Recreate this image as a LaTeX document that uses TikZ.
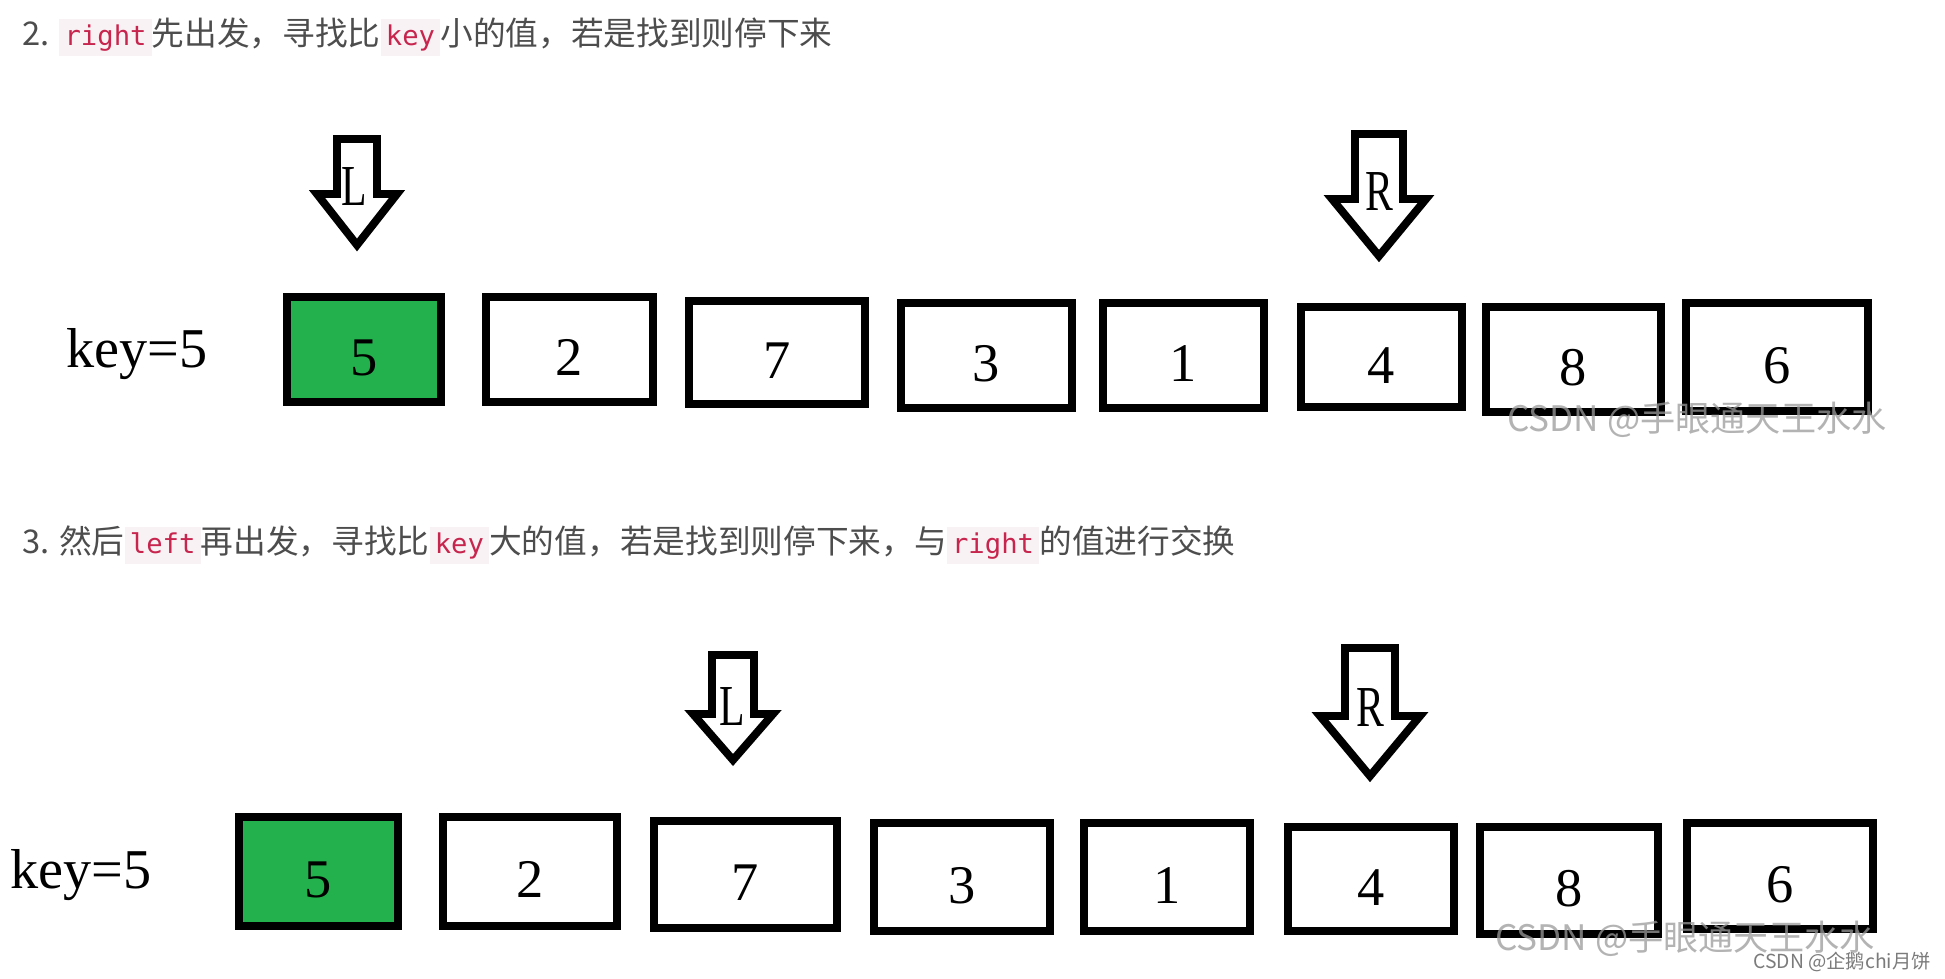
\documentclass[tikz,border=0pt]{standalone}
\usepackage{fontspec}
\usepackage{graphicx}
\usepackage{tikz}
\usepackage{xcolor}
\usetikzlibrary{positioning}
\setmainfont{Liberation Serif}
\newfontfamily\hanfont{Noto Sans CJK SC}
\newfontfamily\codefont{DejaVu Sans Mono}
\definecolor{ink}{HTML}{000000}
\definecolor{txt}{HTML}{4D4D4D}
\definecolor{paint}{HTML}{22B14C}
\definecolor{codered}{HTML}{C7254E}
\definecolor{codebg}{HTML}{F9F2F4}
\definecolor{wm}{HTML}{9A9A9A}
\newcommand{\codeword}[1]{{\setlength{\fboxsep}{3pt}\colorbox{codebg}{\textcolor{codered}{\codefont\fontsize{15.5}{15.5}\selectfont\vphantom{hg}#1}}}}

\begin{document}
\begin{tikzpicture}[x=0.02cm, y=-0.02cm,
  cell/.style={draw=ink, line width=4.5pt, fill=white, inner sep=0pt,
               text height=1.04cm, text depth=0pt, font=\fontsize{31}{31}\selectfont},
  pivot/.style={cell, fill=paint},
  ptr/.style={draw=ink, line width=4.5pt, fill=white, line join=miter},
  ptrlabel/.style={inner sep=0pt, font=\fontsize{33}{33}\selectfont},
  keytext/.style={anchor=base west, inner sep=0pt, font=\fontsize{32}{32}\selectfont},
  heading/.style={anchor=west, inner sep=0pt, text=txt, font=\hanfont\fontsize{18.6}{18.6}\selectfont},
  wmtext/.style={anchor=west, inner sep=0pt, text=wm, text opacity=0.75, font=\hanfont\fontsize{20}{20}\selectfont}]
  \useasboundingbox[fill=white] (0,0) rectangle (1945,978);

  % Step 2
  \node[heading] (head2) at (22,37) {2. \codeword{right}先出发，寻找比\codeword{key}小的值，若是找到则停下来};

  \draw[ptr] (337,139) -- (377,139) -- (377,194) -- (397,194) -- (357,245) -- (317,194) -- (337,194) -- cycle;
  \node[ptrlabel] (lptrA) at (354,187) {\scalebox{0.72}[1]{L}};
  \draw[ptr] (1355,134) -- (1403,134) -- (1403,199) -- (1426,199) -- (1379,256) -- (1332,199) -- (1355,199) -- cycle;
  \node[ptrlabel] (rptrA) at (1379,192) {\scalebox{0.72}[1]{R}};

  \node[keytext] (keyA) at (66,367) {key=5};
  \node[pivot, minimum width=3.08cm, minimum height=2.10cm] (a5) at (364,349.5) {5};
  \node[cell, minimum width=3.34cm, minimum height=2.10cm] (a2) at (569.5,349.5) {2};
  \node[cell, minimum width=3.52cm, minimum height=2.06cm] (a7) at (777,352.5) {7};
  \node[cell, minimum width=3.42cm, minimum height=2.10cm] (a3) at (986.5,355.5) {3};
  \node[cell, minimum width=3.22cm, minimum height=2.10cm] (a1) at (1183.5,355.5) {1};
  \node[cell, minimum width=3.22cm, minimum height=2.00cm] (a4) at (1381.5,357) {4};
  \node[cell, minimum width=3.50cm, minimum height=2.10cm] (a8) at (1573.5,359.5) {8};
  \node[cell, minimum width=3.64cm, minimum height=2.16cm] (a6) at (1777,357) {6};

  % Step 3
  \node[heading] (head3) at (22,545) {3. 然后\codeword{left}再出发，寻找比\codeword{key}大的值，若是找到则停下来，与\codeword{right}的值进行交换};

  \draw[ptr] (712,655) -- (754,655) -- (754,714) -- (773,714) -- (733,760) -- (693,714) -- (712,714) -- cycle;
  \node[ptrlabel] (lptrB) at (732,707) {\scalebox{0.72}[1]{L}};
  \draw[ptr] (1345,648) -- (1395,648) -- (1395,716) -- (1420,716) -- (1370,776) -- (1320,716) -- (1345,716) -- cycle;
  \node[ptrlabel] (rptrB) at (1370,708) {\scalebox{0.72}[1]{R}};

  \node[keytext] (keyB) at (10,888) {key=5};
  \node[pivot, minimum width=3.18cm, minimum height=2.18cm] (b5) at (318.5,871.5) {5};
  \node[cell, minimum width=3.48cm, minimum height=2.18cm] (b2) at (530,871.5) {2};
  \node[cell, minimum width=3.66cm, minimum height=2.14cm] (b7) at (745.5,874.5) {7};
  \node[cell, minimum width=3.52cm, minimum height=2.16cm] (b3) at (962,877) {3};
  \node[cell, minimum width=3.32cm, minimum height=2.16cm] (b1) at (1167,877) {1};
  \node[cell, minimum width=3.32cm, minimum height=2.08cm] (b4) at (1371,879) {4};
  \node[cell, minimum width=3.56cm, minimum height=2.14cm] (b8) at (1569,880.5) {8};
  \node[cell, minimum width=3.72cm, minimum height=2.12cm] (b6) at (1780,876) {6};

  % watermarks
  \node[wmtext] (wmA) at (1507,420) {CSDN @手眼通天王水水};
  \node[wmtext] (wmB) at (1495,939) {CSDN @手眼通天王水水};
  \node[wmtext, text=wm!80!black, text opacity=1, font=\hanfont\fontsize{11}{11}\selectfont] (wmC) at (1753,962) {CSDN @企鹅chi月饼};
\end{tikzpicture}
\end{document}
